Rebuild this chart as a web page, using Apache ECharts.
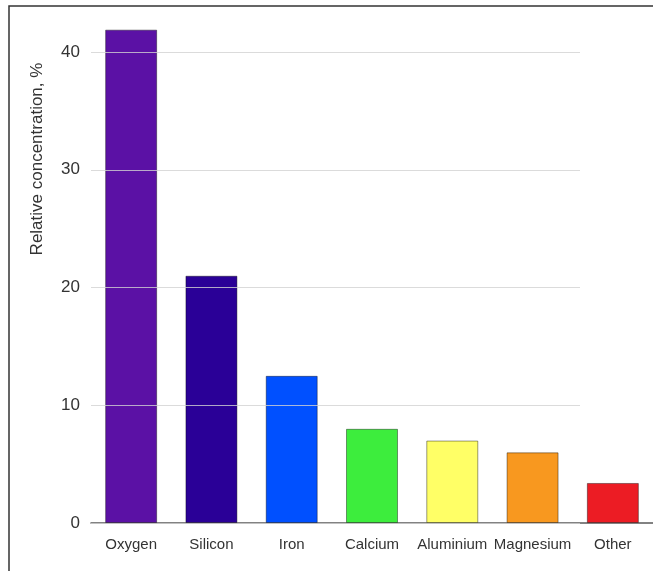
<!DOCTYPE html>
<html>
<head>
<meta charset="utf-8">
<script src="https://cdn.jsdelivr.net/npm/echarts@6/dist/echarts.min.js"></script>
<style>
  html, body { margin: 0; padding: 0; background: #fff; }
  #chart { width: 653px; height: 571px; }
</style>
</head>
<body>
<div id="chart"></div>
<script>
// elements and their share
var elements = ['Oxygen', 'Silicon', 'Iron', 'Calcium', 'Aluminium', 'Magnesium', 'Other'];
var concentration = [41.9, 21, 12.5, 8, 7, 6, 3.4];
var barColors = ['#5b11a5', '#2a0097', '#0050ff', '#3ded3d', '#ffff66', '#f8981f', '#ec1c24'];
var yTicks = [0, 10, 20, 30, 40];

var font = 'Liberation Sans';
var chart = echarts.init(document.getElementById('chart'));

chart.setOption({
  animation: false,
  grid: [
    // grid 0 only carries the y labels and the short grid lines
    { left: 91, right: 73, top: 52, bottom: 48 },
    { left: 91, right: 0, top: 52, bottom: 48 }
  ],
  xAxis: [
    { gridIndex: 0, type: 'value', show: false },
    {
      gridIndex: 1,
      type: 'category',
      data: elements,
      axisLine: { lineStyle: { color: '#5a5a5a', width: 1.5 } },
      axisTick: { show: false },
      axisLabel: { color: '#333', fontSize: 15, fontFamily: font, margin: 14, interval: 0 }
    }
  ],
  yAxis: [
    {
      gridIndex: 0,
      type: 'value',
      min: yTicks[0],
      max: yTicks[yTicks.length - 1],
      interval: 10,
      z: 5,
      axisLine: { show: false },
      axisTick: { show: false },
      axisLabel: { color: '#333', fontSize: 17, fontFamily: font, margin: 11 },
      splitLine: { lineStyle: { color: 'rgba(210,210,210,0.8)', width: 1 } }
    },
    { gridIndex: 1, type: 'value', min: 0, max: 40, show: false }
  ],
  graphic: [
    {
      type: 'rect',
      shape: { x: 9, y: 6, width: 700, height: 600 },
      style: { fill: 'none', stroke: '#333', lineWidth: 1.5 },
      silent: true
    },
    {
      type: 'text',
      x: 37, y: 159,
      rotation: Math.PI / 2,
      style: {
        text: 'Relative concentration, %',
        fill: '#333',
        font: '17px "Liberation Sans"',
        align: 'center',
        verticalAlign: 'middle'
      }
    }
  ],
  series: [{
    type: 'bar',
    xAxisIndex: 1,
    yAxisIndex: 1,
    clip: false,
    barWidth: 52,
    data: concentration.map(function (v, i) {
      return { value: v, itemStyle: { color: barColors[i] } };
    }),
    itemStyle: { borderColor: 'rgba(0,0,0,0.4)', borderWidth: 1 }
  }]
});
</script>
</body>
</html>
